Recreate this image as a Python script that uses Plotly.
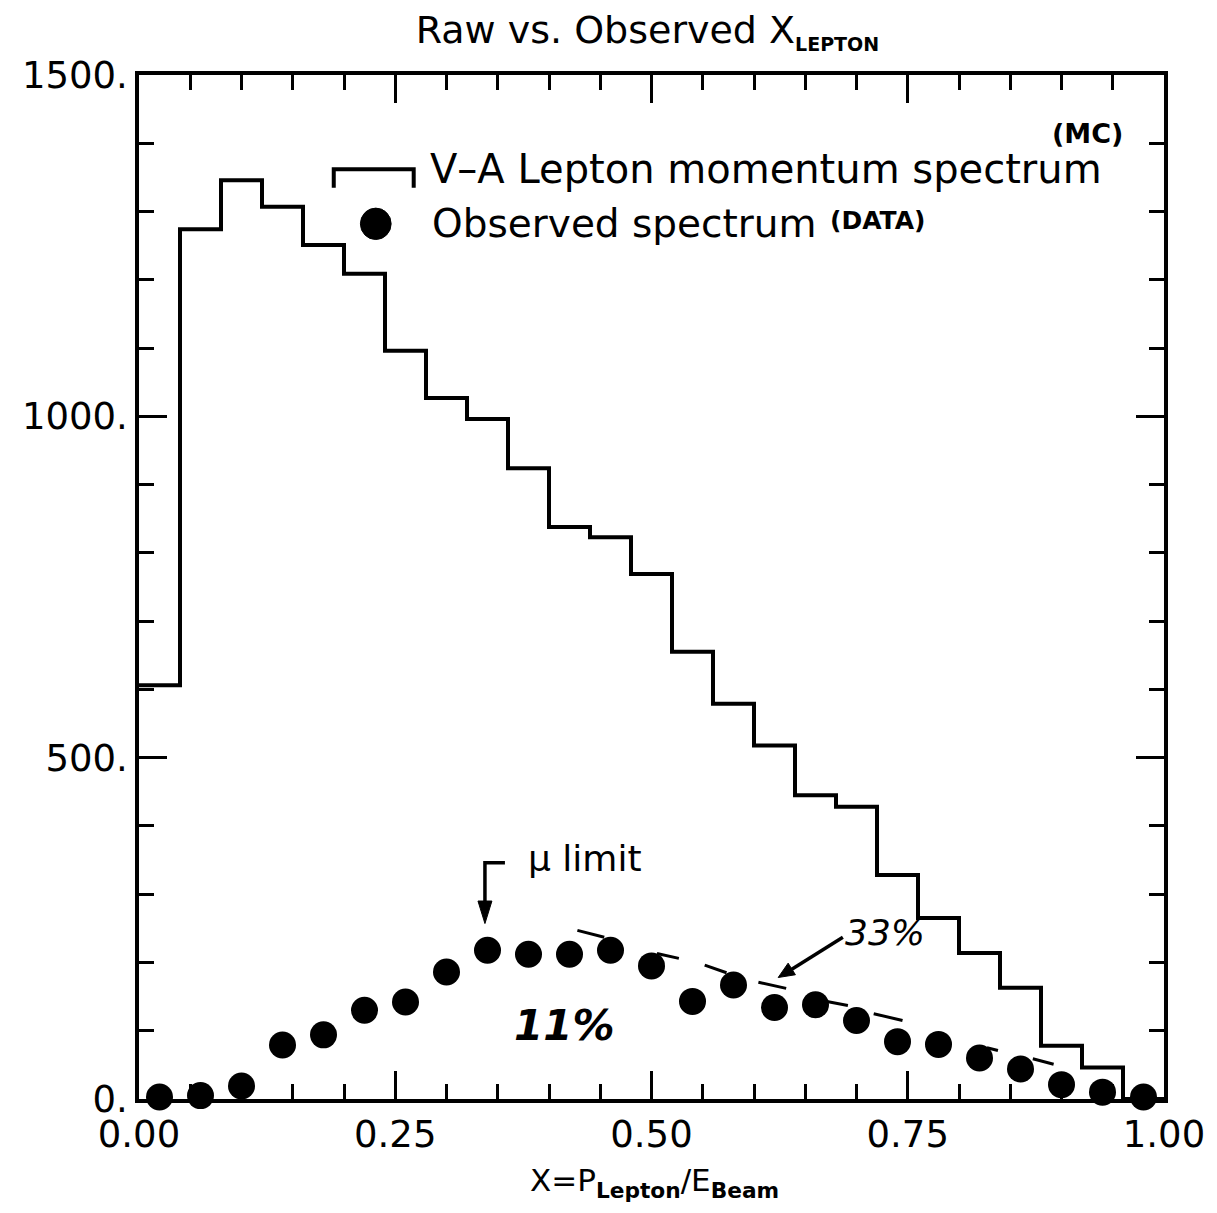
import plotly.graph_objects as go

# ---- data ----
bin_edges = [round(0.04 * i, 2) for i in range(26)]
mc_counts = [606, 1274, 1346, 1307, 1251, 1209, 1096, 1027, 996, 924,
             838, 823, 769, 655, 579, 518, 445, 428, 328, 265,
             214, 163, 78, 46, 0]
data_x = [round(0.02 + 0.04 * i, 2) for i in range(25)]
data_counts = [3, 5, 19, 79, 94, 130, 142, 186, 218, 212,
               212, 218, 195, 143, 167, 134, 138, 115, 84, 80,
               60, 44, 21, 10, 3]
x_tickvals = [0.0, 0.25, 0.5, 0.75, 1.0]
x_ticktext = ["0.00", "0.25", "0.50", "0.75", "1.00"]
y_tickvals = [0, 500, 1000, 1500]
y_ticktext = ["0.", "500.", "1000.", "1500."]

FONT = "DejaVu Sans"

fig = go.Figure()

# histogram (MC)
hx = bin_edges[:-1] + [bin_edges[-1]]
hy = mc_counts + [mc_counts[-1]]
fig.add_trace(go.Scatter(
    x=hx, y=hy, mode="lines", line=dict(shape="hv", color="black", width=4),
    showlegend=False, hoverinfo="skip", cliponaxis=False))

# observed points
fig.add_trace(go.Scatter(
    x=data_x, y=data_counts, mode="markers",
    marker=dict(symbol="circle", size=27, color="black"),
    showlegend=False, cliponaxis=False))

axis_common = dict(
    showline=True, linecolor="black", linewidth=3.5, mirror="ticks",
    ticks="inside", ticklen=28, tickwidth=3, tickcolor="black",
    showgrid=False, zeroline=False,
    tickfont=dict(family=FONT, size=37, color="black"),
)

fig.update_xaxes(range=[0, 1], tickmode="array", tickvals=x_tickvals,
                 ticktext=x_ticktext,
                 minor=dict(dtick=0.05, ticks="inside", ticklen=15,
                            tickwidth=3, tickcolor="black"),
                 **axis_common)
fig.update_yaxes(range=[0, 1500], tickmode="array", tickvals=y_tickvals,
                 ticktext=y_ticktext,
                 minor=dict(dtick=100, ticks="inside", ticklen=15,
                            tickwidth=3, tickcolor="black"),
                 **axis_common)

shapes = []
# legend bracket symbol
shapes.append(dict(type="path", xref="x", yref="y",
                   path="M 0.190 1335 L 0.190 1362 L 0.268 1362 L 0.268 1335",
                   line=dict(color="black", width=4)))
# legend dot
shapes.append(dict(type="circle", xref="x", yref="y",
                   x0=0.231 - 0.015, x1=0.231 + 0.015,
                   y0=1282 - 23, y1=1282 + 23,
                   fillcolor="black", line=dict(color="black", width=1)))
# mu-limit bent line + arrowhead
shapes.append(dict(type="path", xref="x", yref="y",
                   path="M 0.357 346 L 0.3375 346 L 0.3375 285",
                   line=dict(color="black", width=3.5)))
shapes.append(dict(type="path", xref="x", yref="y",
                   path="M 0.3375 257 L 0.3307 290 L 0.3443 290 Z",
                   fillcolor="black", line=dict(color="black", width=1)))
# 33% arrow
shapes.append(dict(type="path", xref="x", yref="y",
                   path="M 0.6867 237 L 0.6369 190",
                   line=dict(color="black", width=3.5)))
shapes.append(dict(type="path", xref="x", yref="y",
                   path="M 0.6236 178 L 0.6404 182 L 0.6333 199 Z",
                   fillcolor="black", line=dict(color="black", width=1)))
# handwritten tick strokes beside some points
strokes = [
    (0.4277, 247, 0.4539, 237), (0.5053, 213, 0.5267, 206),
    (0.5519, 196, 0.5732, 185), (0.6043, 171, 0.6314, 162),
    (0.6673, 144, 0.6916, 137), (0.7168, 125, 0.7449, 115),
    (0.8273, 75, 0.8380, 71), (0.8720, 59, 0.8923, 51),
]
for x0, y0, x1, y1 in strokes:
    shapes.append(dict(type="line", xref="x", yref="y",
                       x0=x0, y0=y0, x1=x1, y1=y1,
                       line=dict(color="black", width=3)))

annotations = [
    dict(text="V–A Lepton momentum spectrum", x=0.282, y=1362, xref="x", yref="y",
         xanchor="left", yanchor="middle", showarrow=False,
         font=dict(family=FONT, size=40, color="black")),
    dict(text="Observed spectrum", x=0.284, y=1282, xref="x", yref="y",
         xanchor="left", yanchor="middle", showarrow=False,
         font=dict(family=FONT, size=39, color="black")),
    dict(text="<b>(DATA)</b>", x=0.672, y=1287, xref="x", yref="y",
         xanchor="left", yanchor="middle", showarrow=False,
         font=dict(family=FONT, size=25, color="black")),
    dict(text="<b>(MC)</b>", x=0.925, y=1414, xref="x", yref="y",
         xanchor="center", yanchor="middle", showarrow=False,
         font=dict(family=FONT, size=27, color="black")),
    dict(text="μ limit", x=0.435, y=353, xref="x", yref="y",
         xanchor="center", yanchor="middle", showarrow=False,
         font=dict(family=FONT, size=36, color="black")),
    dict(text="<b><i>11%</i></b>", x=0.415, y=107, xref="x", yref="y",
         xanchor="center", yanchor="middle", showarrow=False,
         font=dict(family=FONT, size=42, color="black")),
    dict(text="<i>33%</i>", x=0.728, y=244, xref="x", yref="y",
         xanchor="center", yanchor="middle", showarrow=False,
         font=dict(family=FONT, size=36, color="black")),
    dict(text="X=P<sub><b>Lepton</b></sub>/E<sub><b>Beam</b></sub>",
         x=0.503, y=-0.082, xref="paper", yref="paper",
         xanchor="center", yanchor="middle", showarrow=False,
         font=dict(family=FONT, size=31, color="black")),
]

fig.update_layout(
    width=1217, height=1213,
    margin=dict(l=139, r=44, t=75, b=114),
    paper_bgcolor="white", plot_bgcolor="white",
    showlegend=False,
    title=dict(text="Raw vs. Observed X<sub><span style=\"font-size:19px\"><b>LEPTON</b></span></sub>",
               x=0.532, xref="container", xanchor="center",
               y=1 - 30 / 1213, yref="container", yanchor="middle",
               font=dict(family=FONT, size=38, color="black")),
    shapes=shapes,
    annotations=annotations,
)

fig.write_html("out.html")
